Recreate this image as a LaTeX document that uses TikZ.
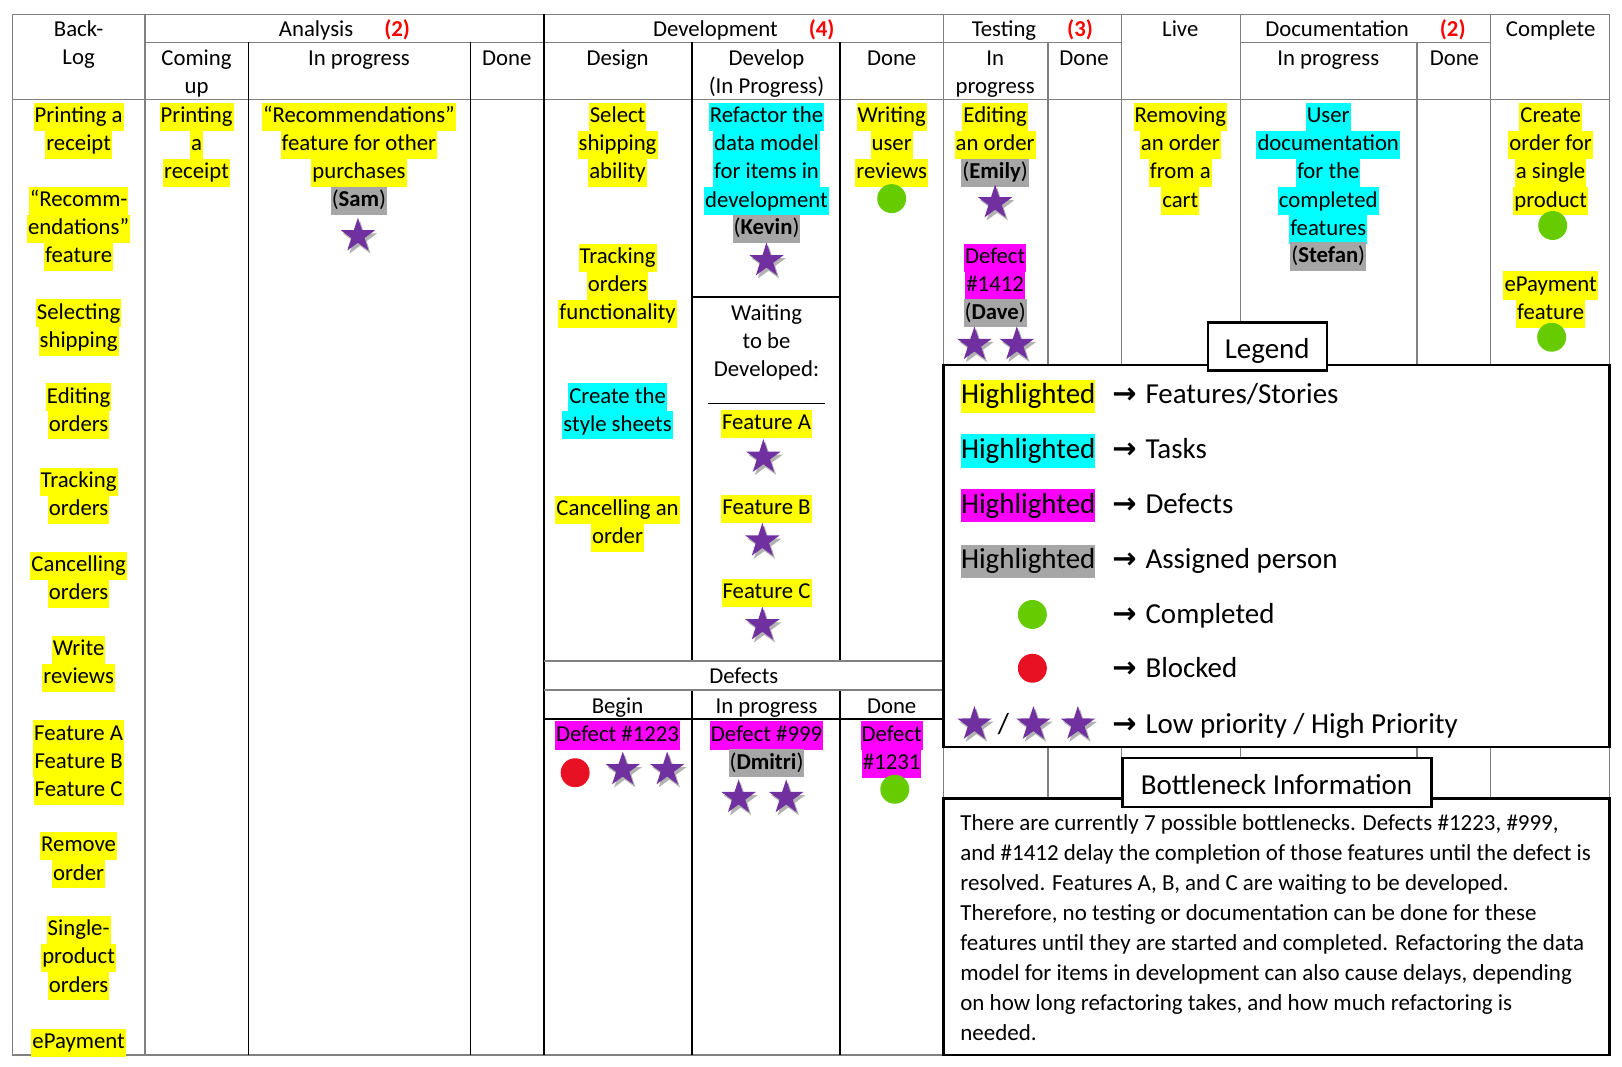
\documentclass[tikz,border=0pt]{standalone}
\usepackage{fontspec}
\setmainfont{Carlito}
\newfontfamily\arrowfont{DejaVu Sans}
\usetikzlibrary{shapes.geometric,shadows}
\definecolor{hly}{HTML}{FFFF00}
\definecolor{hlc}{HTML}{00FFFF}
\definecolor{hlm}{HTML}{FF00FF}
\definecolor{hlg}{HTML}{A6A6A6}
\definecolor{starp}{HTML}{7030A0}
\definecolor{okgreen}{HTML}{66CC00}
\definecolor{blockred}{HTML}{E81123}
\definecolor{gridgray}{HTML}{808080}
\newcommand\cardcol[5]{%
  \foreach \txt [count=\i] in {#5}{%
    \node[#2] (#1-\i) at (#3,{#4+(\i-1)*27.2}) {\txt};}}
\tikzset{
  base11/.style={font=\fontsize{11}{13.6}\selectfont},
  hlbase/.style={base11, inner xsep=0.5pt, inner ysep=0pt, text height=9.6pt, text depth=4pt, yshift=-1pt},
  hy/.style={hlbase, fill=hly},
  hc/.style={hlbase, fill=hlc},
  hm/.style={hlbase, fill=hlm},
  hg/.style={hlbase, fill=hlg},
  plain/.style={hlbase},
  starn/.style={star, star points=5, star point ratio=2.6, minimum size=17.5pt, inner sep=0pt,
     fill=starp, drop shadow={shadow xshift=1pt, shadow yshift=-1.5pt, opacity=0.3, fill=black}},
  gdot/.style={circle, minimum size=14pt, inner sep=0pt, fill=okgreen},
  rdot/.style={circle, minimum size=14pt, inner sep=0pt, fill=blockred},
  gridg/.style={draw=gridgray, line width=0.7pt},
  gridk/.style={draw=black, line width=0.7pt},
  boxline/.style={draw=black, line width=1.2pt},
  lgfont/.style={font=\fontsize{14}{17}\selectfont, inner xsep=0pt, inner ysep=1pt, text height=10.5pt, text depth=3.5pt, yshift=-1pt},
  lhl/.style={lgfont}
}
\begin{document}
\begin{tikzpicture}[x=0.5pt,y=-0.5pt]
\useasboundingbox (0,0) rectangle (1568,1031);
\fill[white] (0,0) rectangle (1568,1031);
% ---------- grid ----------
\draw[gridg] (12,14) -- (1556,14);
\draw[gridg] (140,41) -- (1084,41);
\draw[gridg] (1199,41) -- (1441,41);
\draw[gridg] (12,96) -- (1556,96);
\draw[gridg] (12,1020) -- (1556,1020);
\draw[gridg] (12,14) -- (12,1020);
\draw[gridg] (140,14) -- (140,1020);
\draw[gridg] (1556,14) -- (1556,1020);
\draw[gridk] (240,41) -- (240,1020);
\draw[gridk] (455,41) -- (455,1020);
\draw[gridk] (526,14) -- (526,1020);
\draw[gridk] (669,41) -- (669,639);
\draw[gridk] (669,667) -- (669,1020);
\draw[gridk] (812,41) -- (812,639);
\draw[gridk] (812,667) -- (812,1020);
\draw[gridg] (912,14) -- (912,1020);
\draw[gridg] (1013,41) -- (1013,772);
\draw[gridg] (1084,14) -- (1084,772);
\draw[gridg] (1199,14) -- (1199,772);
\draw[gridg] (1370,41) -- (1370,772);
\draw[gridg] (1441,14) -- (1441,772);
\draw[gridk] (669,287) -- (812,287);
\draw[gridg] (526,639) -- (912,639);
\draw[gridg] (526,667) -- (912,667);
\draw[gridk] (526,695) -- (912,695);
% ---------- headers ----------
\cardcol{hback}{plain}{76}{28}{Back-,Log}
\node[plain] (hana) at (333,28) {Analysis\hspace{15pt}\textcolor{red}{\textbf{(2)}}};
\node[plain] (hdev) at (719,28) {Development\hspace{15pt}\textcolor{red}{\textbf{(4)}}};
\node[plain] (htest) at (998,28) {Testing\hspace{15pt}\textcolor{red}{\textbf{(3)}}};
\node[plain] (hlive) at (1141,28) {Live};
\node[plain] (hdoc) at (1320,28) {Documentation\hspace{15pt}\textcolor{red}{\textbf{(2)}}};
\node[plain] (hcomp) at (1499,28) {Complete};
\cardcol{hcu}{plain}{190}{56}{Coming,up}
\node[plain] (haip) at (347,56) {In progress};
\node[plain] (had) at (490,56) {Done};
\node[plain] (hdes) at (597,56) {Design};
\cardcol{hdv}{plain}{741}{56}{Develop,(In Progress)}
\node[plain] (hdd) at (862,56) {Done};
\cardcol{htip}{plain}{962}{56}{In,progress}
\node[plain] (htd) at (1048,56) {Done};
\node[plain] (hdip) at (1284,56) {In progress};
\node[plain] (hdcd) at (1406,56) {Done};
% ---------- backlog ----------
\cardcol{bla}{hy}{76}{111}{Printing a,receipt}
\cardcol{blb}{hy}{76}{192}{“Recomm-,endations”,feature}
\cardcol{blc}{hy}{76}{301}{Selecting,shipping}
\cardcol{bld}{hy}{76}{382}{Editing,orders}
\cardcol{ble}{hy}{76}{464}{Tracking,orders}
\cardcol{blf}{hy}{76}{545}{Cancelling,orders}
\cardcol{blg}{hy}{76}{626}{Write,reviews}
\cardcol{blh}{hy}{76}{708}{Feature A,Feature B,Feature C}
\cardcol{bli}{hy}{76}{816}{Remove,order}
\cardcol{blj}{hy}{76}{897}{Single-,product,orders}
\cardcol{blk}{hy}{76}{1006}{ePayment}
% ---------- analysis ----------
\cardcol{cua}{hy}{190}{111}{Printing,a,receipt}
\cardcol{aipa}{hy}{347}{111}{“Recommendations”,feature for other,purchases}
\node[hg] (aipg) at (347,192) {(\textbf{Sam})};
\node[starn] (aips) at (346,228) {};
% ---------- development ----------
\cardcol{dsa}{hy}{597}{111}{Select,shipping,ability}
\cardcol{dsb}{hy}{597}{247}{Tracking,orders,functionality}
\cardcol{dsc}{hc}{597}{382}{Create the,style sheets}
\cardcol{dsd}{hy}{597}{491}{Cancelling an,order}
\cardcol{dva}{hc}{741}{111}{Refactor the,data model,for items in,development}
\node[hg] (dvg) at (741,219) {(\textbf{Kevin})};
\node[starn] (dvs) at (741,252) {};
\cardcol{dvw}{plain}{741}{302}{Waiting,to be,Developed:}
\node[plain] (dvline) at (741,383) {\rule{57pt}{0.5pt}};
\node[hy] (dvfa) at (741,408) {Feature A};
\node[starn] (dvsa) at (738,442) {};
\node[hy] (dvfb) at (741,490) {Feature B};
\node[starn] (dvsb) at (737,523) {};
\node[hy] (dvfc) at (741,571) {Feature C};
\node[starn] (dvsc) at (737,604) {};
\cardcol{dda}{hy}{862}{111}{Writing,user,reviews}
\node[gdot] (ddd) at (862,192) {};
% ---------- defects ----------
\node[plain] (dfh) at (719,653) {Defects};
\node[plain] (dfb) at (597,682) {Begin};
\node[plain] (dfi) at (741,682) {In progress};
\node[plain] (dfd) at (862,682) {Done};
\node[hm] (dfa) at (597,709) {Defect \#1223};
\node[rdot] (dfar) at (556,747) {};
\node[starn] (dfas1) at (602,744) {};
\node[starn] (dfas2) at (645,744) {};
\node[hm] (dfbb) at (741,709) {Defect \#999};
\node[hg] (dfbg) at (741,736) {(\textbf{Dmitri})};
\node[starn] (dfbs1) at (714,771) {};
\node[starn] (dfbs2) at (760,771) {};
\cardcol{dfc}{hm}{862}{709}{Defect,\#1231}
\node[gdot] (dfcd) at (865,763) {};
% ---------- testing ----------
\cardcol{tsa}{hy}{962}{111}{Editing,an order}
\node[hg] (tsag) at (962,165) {(\textbf{Emily})};
\node[starn] (tsas) at (962,196) {};
\cardcol{tsb}{hm}{962}{247}{Defect,\#1412}
\node[hg] (tsbg) at (962,301) {(\textbf{Dave})};
\node[starn] (tsbs1) at (942,333) {};
\node[starn] (tsbs2) at (983,333) {};
% ---------- live / doc / complete ----------
\cardcol{lva}{hy}{1141}{111}{Removing,an order,from a,cart}
\cardcol{doa}{hc}{1284}{111}{User,documentation,for the,completed,features}
\node[hg] (dog) at (1284,246) {(\textbf{Stefan})};
\cardcol{cpa}{hy}{1499}{111}{Create,order for,a single,product}
\node[gdot] (cpad) at (1501,218) {};
\cardcol{cpb}{hy}{1499}{274}{ePayment,feature}
\node[gdot] (cpbd) at (1500,326) {};
% ---------- legend ----------
\draw[boxline, fill=white] (912,353) rectangle (1556,722);
\draw[boxline, fill=white] (1168,312) rectangle (1283,358);
\node[lgfont] (lgt) at (1225,338) {Legend};
\node[lhl, fill=hly] (lg1) at (994,381) {Highlighted};
\node[lhl, fill=hlc] (lg2) at (994,434) {Highlighted};
\node[lhl, fill=hlm] (lg3) at (994,487) {Highlighted};
\node[lhl, fill=hlg] (lg4) at (994,541) {Highlighted};
\node[gdot] (lg5) at (998,594) {};
\node[rdot] (lg6) at (998,646) {};
\node[starn] (lg7a) at (942,700) {};
\node[lgfont] (lg7s) at (970,700) {/};
\node[starn] (lg7b) at (999,700) {};
\node[starn] (lg7c) at (1042,700) {};
\foreach \yy/\tt [count=\k] in {381/{Features/Stories},434/{Tasks},487/{Defects},541/{Assigned person},594/{Completed},646/{Blocked},700/{Low priority / High Priority}}{
  \node[lgfont] (la\k) at (1087,\yy) {\arrowfont\bfseries →};
  \node[lgfont, anchor=west] (lt\k) at (1107,\yy) {\tt};
}
% ---------- bottleneck ----------
\draw[boxline, fill=white] (912,772) rectangle (1556,1020);
\draw[boxline, fill=white] (1085,733) rectangle (1384,780);
\node[lgfont] (bnt) at (1234,759) {Bottleneck Information};
\node[anchor=north west, inner sep=0pt, align=left, font=\fontsize{11.1}{14.5}\selectfont] (bntext) at (928,787) {%
There are currently 7 possible bottlenecks. Defects \#1223, \#999,\\
and \#1412 delay the completion of those features until the defect is\\
resolved. Features A, B, and C are waiting to be developed.\\
Therefore, no testing or documentation can be done for these\\
features until they are started and completed. Refactoring the data\\
model for items in development can also cause delays, depending\\
on how long refactoring takes, and how much refactoring is\\
needed.};
\end{tikzpicture}
\end{document}
